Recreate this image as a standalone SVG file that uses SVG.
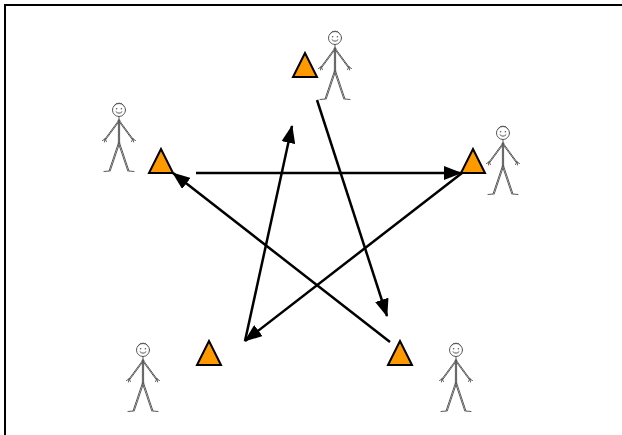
<svg xmlns="http://www.w3.org/2000/svg" xmlns:xlink="http://www.w3.org/1999/xlink" width="622" height="435" viewBox="0 0 622 435">
  <style>
    .frame { fill: none; stroke: #000; stroke-width: 2; }
    .marker-tri { fill: #FF9900; stroke: #000; stroke-width: 2; stroke-linejoin: miter; }
    .fig { fill: none; stroke: #5a5a5a; stroke-width: 1; stroke-linecap: round; stroke-linejoin: round; }
    .fig-dot { fill: #5a5a5a; }
    .link { fill: none; stroke: #000; stroke-width: 2.5; }
  </style>
  <defs>
    <marker id="head" markerUnits="userSpaceOnUse" markerWidth="18" markerHeight="14" refX="17" refY="7" orient="auto">
      <path d="M0,0 L18,7 L0,14 Z" fill="#000"/>
    </marker>
    <!-- sketchy stick person, head centred on the origin -->
    <g id="person">
      <circle class="fig" cx="0" cy="0" r="6.5"/>
      <path class="fig" d="M-5,-4 Q-3,-7.5 0,-6.8 Q3,-7.5 5,-4"/>
      <circle class="fig-dot" cx="-2.4" cy="-1.2" r="0.8"/>
      <circle class="fig-dot" cx="2.4" cy="-1.2" r="0.8"/>
      <path class="fig" d="M-3,1.8 Q0,4.8 3,1.8"/>
      <path class="fig" d="M0,6.5 L0,10"/>
      <path class="fig" d="M-0.6,10 L-0.6,33 M0.6,10 L0.6,33"/>
      <path class="fig" d="M0,10 L-14,29 M0.8,10.5 L-13.2,29.5 M0,10 L14,29 M-0.8,10.5 L13.2,29.5"/>
      <path class="fig" d="M-14,29 l-2.5,1.5 M-14,29 l-0.5,3 M-14,29 l1.5,2.5 M14,29 l2.5,1.5 M14,29 l0.5,3 M14,29 l-1.5,2.5"/>
      <path class="fig" d="M-0.6,33 L-10,61 M0.6,33 L-8.8,61 M0.6,33 L10,61 M-0.6,33 L8.8,61"/>
      <path class="fig" d="M-10,61 L-15,61.5 M10,61 L15,61.5"/>
    </g>
  </defs>

  <path class="frame" d="M5,435 V5 H622"/>

  <g id="node-top">
    <polygon class="marker-tri" points="305,53 293,77 317,77"/>
    <use xlink:href="#person" x="335" y="38"/>
  </g>
  <g id="node-left">
    <polygon class="marker-tri" points="161,149 149,173 173,173"/>
    <use xlink:href="#person" x="119" y="110"/>
  </g>
  <g id="node-right">
    <polygon class="marker-tri" points="473,149 461,173 485,173"/>
    <use xlink:href="#person" x="503" y="133"/>
  </g>
  <g id="node-bottom-left">
    <polygon class="marker-tri" points="209,341 197,365 221,365"/>
    <use xlink:href="#person" x="143" y="350"/>
  </g>
  <g id="node-bottom-right">
    <polygon class="marker-tri" points="400,341 388,365 412,365"/>
    <use xlink:href="#person" x="456" y="350"/>
  </g>

  <g id="connectors">
    <line class="link" x1="317" y1="100" x2="387" y2="316" marker-end="url(#head)"/>
    <line class="link" x1="390" y1="342" x2="173" y2="173" marker-end="url(#head)"/>
    <line class="link" x1="196" y1="173" x2="461" y2="173" marker-end="url(#head)"/>
    <line class="link" x1="462" y1="173" x2="245" y2="341" marker-end="url(#head)"/>
    <line class="link" x1="245" y1="341" x2="292" y2="126" marker-end="url(#head)"/>
  </g>
</svg>
